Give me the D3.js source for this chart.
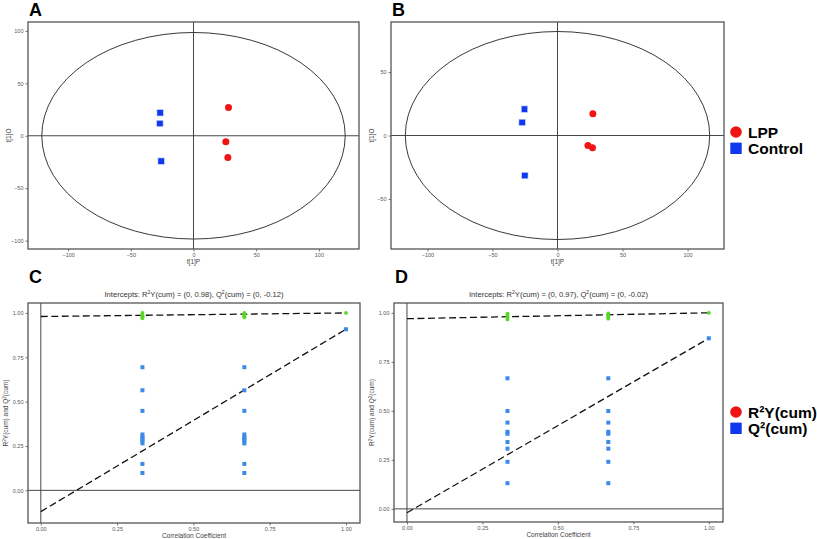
<!DOCTYPE html>
<html><head><meta charset="utf-8">
<script src="https://cdn.jsdelivr.net/npm/d3@7"></script>
<style>body{margin:0;background:#fff}svg{display:block}</style>
</head><body>
<svg id="c" width="817" height="539"></svg>
<script>
// ---- Data ----
const groups = ["LPP", "Control"];
const scoreTicksA_x = [-100, -50, 0, 50, 100];
const scoreTicksA_y = [-100, -50, 0, 50, 100];
const scoreTicksB_x = [-100, -50, 0, 50, 100];
const scoreTicksB_y = [-50, 0, 50];

const A_LPP_x = [27.9, 25.8, 27.4];
const A_LPP_y = [27.0, -5.7, -20.7];
const A_Ctrl_x = [-26.6, -26.8, -25.8];
const A_Ctrl_y = [21.9, 11.7, -24.2];

const B_LPP_x = [27.2, 23.4, 26.9];
const B_LPP_y = [17.1, -7.9, -9.7];
const B_Ctrl_x = [-25.4, -27.2, -25.1];
const B_Ctrl_y = [20.8, 10.3, -31.6];

const permLegend = ["R\u00B2Y(cum)", "Q\u00B2(cum)"];
const permTicks = [0, 0.25, 0.5, 0.75, 1];
const permCorr = [0.333, 0.667, 1.0];

const C_R2_1 = [1.0, 0.99, 0.985, 0.98, 0.975, 0.97];
const C_R2_2 = [1.0, 0.995, 0.99, 0.985, 0.98, 0.975];
const C_R2_orig = [1.0];
const C_Q2_1 = [0.694, 0.564, 0.448, 0.315, 0.30, 0.29, 0.28, 0.265, 0.149, 0.098];
const C_Q2_2 = [0.694, 0.564, 0.448, 0.315, 0.30, 0.29, 0.28, 0.265, 0.149, 0.098];
const C_Q2_orig = [0.908];
const C_int = [0.98, -0.12];

const D_R2_1 = [0.996, 0.99, 0.98, 0.975, 0.966];
const D_R2_2 = [0.997, 0.99, 0.98, 0.975, 0.97];
const D_R2_orig = [1.0];
const D_Q2_1 = [0.666, 0.499, 0.44, 0.393, 0.383, 0.341, 0.307, 0.24, 0.131];
const D_Q2_2 = [0.666, 0.499, 0.44, 0.393, 0.383, 0.341, 0.307, 0.24, 0.131];
const D_Q2_orig = [0.87];
const D_int = [0.97, -0.02];

const titleC = ["0.98", "-0.12"];
const titleD = ["0.97", "-0.02"];

// ---- Drawing ----
const svg = d3.select("#c");
const FONT = "Liberation Sans, Arial, sans-serif";
const RED = "#f01414", BLUE = "#1038ee", QBLUE = "#3a8ae6", GREEN = "#5ad625";

function frame(box, xd, yd, xt, yt, fmt) {
  const x = d3.scaleLinear().domain(xd).range([box.x0, box.x1]);
  const y = d3.scaleLinear().domain(yd).range([box.y1, box.y0]);
  const g = svg.append("g");
  const ax = g.append("g").attr("transform", `translate(0,${box.y1})`)
    .call(d3.axisBottom(x).tickValues(xt).tickSize(2.5).tickPadding(2).tickFormat(fmt));
  const ay = g.append("g").attr("transform", `translate(${box.x0},0)`)
    .call(d3.axisLeft(y).tickValues(yt).tickSize(2.5).tickPadding(2).tickFormat(fmt));
  [ax, ay].forEach(a => {
    a.select(".domain").remove();
    a.selectAll("line").attr("stroke", "#555").attr("stroke-width", 0.8);
    a.selectAll("text").attr("font-size", 5.5).attr("fill", "#555").attr("font-family", FONT);
  });
  const plot = g.append("g");
  return {x, y, g, plot};
}

function border(box) {
  svg.append("rect").attr("x", box.x0).attr("y", box.y0)
    .attr("width", box.x1 - box.x0).attr("height", box.y1 - box.y0)
    .attr("fill", "none").attr("stroke", "#555").attr("stroke-width", 1.3);
}

function refLines(f, box) {
  f.plot.append("line").attr("x1", f.x(0)).attr("x2", f.x(0)).attr("y1", box.y0).attr("y2", box.y1)
    .attr("stroke", "#333").attr("stroke-width", 0.9);
  f.plot.append("line").attr("x1", box.x0).attr("x2", box.x1).attr("y1", f.y(0)).attr("y2", f.y(0))
    .attr("stroke", "#333").attr("stroke-width", 0.9);
}

function scorePanel(box, xd, yd, xt, yt, ell, lx, ly, cx, cy, label) {
  const f = frame(box, xd, yd, xt, yt, d3.format("d"));
  f.plot.append("ellipse").attr("cx", f.x(0)).attr("cy", f.y(0))
    .attr("rx", f.x(ell[0]) - f.x(0)).attr("ry", f.y(0) - f.y(ell[1]))
    .attr("fill", "none").attr("stroke", "#222").attr("stroke-width", 0.9);
  refLines(f, box);
  lx.forEach((v, i) => f.plot.append("circle").attr("cx", f.x(v)).attr("cy", f.y(ly[i])).attr("r", 3.5).attr("fill", RED));
  cx.forEach((v, i) => f.plot.append("rect").attr("x", f.x(v) - 3.2).attr("y", f.y(cy[i]) - 3.2)
    .attr("width", 6.4).attr("height", 6.4).attr("fill", BLUE).attr("stroke", "#c8d4ff").attr("stroke-width", 0.6));
  border(box);
  const mx = (box.x0 + box.x1) / 2, my = (box.y0 + box.y1) / 2;
  svg.append("text").attr("x", mx).attr("y", box.y1 + 15).attr("text-anchor", "middle")
    .attr("font-size", 6.5).attr("fill", "#444").attr("font-family", FONT).text("t[1]P");
  svg.append("text").attr("transform", `translate(${box.x0 - 17},${my}) rotate(-90)`).attr("text-anchor", "middle")
    .attr("font-size", 6.5).attr("fill", "#444").attr("font-family", FONT).text("t[1]O");
  svg.append("text").attr("x", box.x0 + 1).attr("y", box.y0 - 6).attr("font-size", 18).attr("font-weight", "bold")
    .attr("font-family", FONT).text(label);
}

function permPanel(box, xd, yd, r2s, q2s, ints, tnums, label) {
  const f = frame(box, xd, yd, permTicks, permTicks, d3.format(".2f"));
  refLines(f, box);
  const line = d3.line().x(d => f.x(d[0])).y(d => f.y(d[1]));
  f.plot.append("path").attr("d", line([[0, ints[0]], [1, r2s[2][0]]]))
    .attr("stroke", "#111").attr("stroke-width", 1.3).attr("stroke-dasharray", "7,3.5").attr("fill", "none");
  f.plot.append("path").attr("d", line([[0, ints[1]], [1, q2s[2][0]]]))
    .attr("stroke", "#111").attr("stroke-width", 1.3).attr("stroke-dasharray", "7,3.5").attr("fill", "none");
  q2s.forEach((arr, k) => arr.forEach(v => f.plot.append("rect")
    .attr("x", f.x(permCorr[k]) - 2).attr("y", f.y(v) - 2).attr("width", 4).attr("height", 4).attr("fill", QBLUE)));
  r2s.forEach((arr, k) => arr.forEach(v => f.plot.append("circle")
    .attr("cx", f.x(permCorr[k])).attr("cy", f.y(v)).attr("r", 1.9).attr("fill", GREEN)));
  border(box);
  const mx = (box.x0 + box.x1) / 2, my = (box.y0 + box.y1) / 2;
  svg.append("text").attr("x", mx).attr("y", box.y1 + 15).attr("text-anchor", "middle")
    .attr("font-size", 6.5).attr("fill", "#444").attr("font-family", FONT).text("Correlation Coefficient");
  const yl = svg.append("text").attr("transform", `translate(${box.x0 - 20},${my}) rotate(-90)`).attr("text-anchor", "middle")
    .attr("font-size", 6.5).attr("fill", "#444").attr("font-family", FONT);
  yl.append("tspan").text("R");
  yl.append("tspan").attr("font-size", 4.5).attr("dy", -2.5).text("2");
  yl.append("tspan").attr("dy", 2.5).text("Y(cum) and Q");
  yl.append("tspan").attr("font-size", 4.5).attr("dy", -2.5).text("2");
  yl.append("tspan").attr("dy", 2.5).text("(cum)");
  const t = svg.append("text").attr("x", mx).attr("y", box.y0 - 6).attr("text-anchor", "middle")
    .attr("font-size", 7.6).attr("fill", "#333").attr("font-family", FONT);
  t.append("tspan").text("Intercepts: R");
  t.append("tspan").attr("font-size", 5).attr("dy", -3).text("2");
  t.append("tspan").attr("dy", 3).text(`Y(cum) = (0, ${tnums[0]}), Q`);
  t.append("tspan").attr("font-size", 5).attr("dy", -3).text("2");
  t.append("tspan").attr("dy", 3).text(`(cum) = (0, ${tnums[1]})`);
  svg.append("text").attr("x", box.x0 + 1).attr("y", box.y0 - 20).attr("font-size", 18).attr("font-weight", "bold")
    .attr("font-family", FONT).text(label);
}

function legend(x, y, labels) {
  const g = svg.append("g").attr("font-family", FONT).attr("font-weight", "bold").attr("font-size", 15.5);
  g.append("circle").attr("cx", x).attr("cy", y).attr("r", 5.8).attr("fill", RED);
  g.append("rect").attr("x", x - 5.7).attr("y", y + 10.6).attr("width", 11.4).attr("height", 11.4).attr("fill", BLUE);
  g.append("text").attr("x", x + 12).attr("y", y + 5.6).text(labels[0]);
  g.append("text").attr("x", x + 12).attr("y", y + 22).text(labels[1]);
}

scorePanel({x0: 28, x1: 359, y0: 22, y1: 249}, [-132, 132], [-108, 108.5],
  scoreTicksA_x, scoreTicksA_y, [121, 98.5], A_LPP_x, A_LPP_y, A_Ctrl_x, A_Ctrl_y, "A");
scorePanel({x0: 391, x1: 724, y0: 22, y1: 249}, [-128, 128], [-89.5, 89.5],
  scoreTicksB_x, scoreTicksB_y, [117, 82], B_LPP_x, B_LPP_y, B_Ctrl_x, B_Ctrl_y, "B");
legend(736, 132, groups);

permPanel({x0: 28, x1: 360, y0: 303, y1: 523}, [-0.042, 1.046], [-0.184, 1.056],
  [C_R2_1, C_R2_2, C_R2_orig], [C_Q2_1, C_Q2_2, C_Q2_orig], C_int, titleC, "C");
permPanel({x0: 394, x1: 723, y0: 303, y1: 522}, [-0.043, 1.047], [-0.067, 1.05],
  [D_R2_1, D_R2_2, D_R2_orig], [D_Q2_1, D_Q2_2, D_Q2_orig], D_int, titleD, "D");
legend(736, 412, permLegend);
</script>
</body></html>
